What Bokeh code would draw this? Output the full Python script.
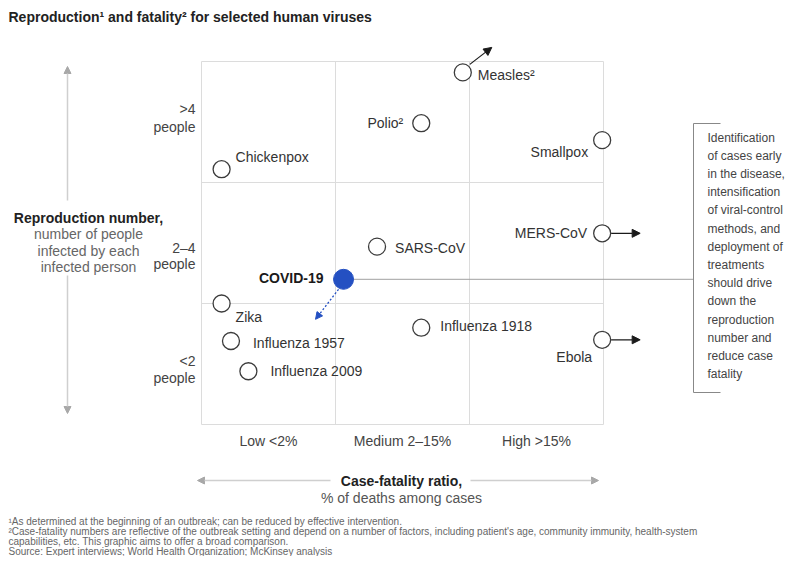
from bokeh.plotting import figure
from bokeh.models import Range1d, Arrow, NormalHead, ColumnDataSource
from bokeh.core.properties import value
from bokeh.embed import file_html
from bokeh.resources import INLINE

# ---------------- data ----------------
viruses = ["Measles²", "Polio²", "Chickenpox", "Smallpox", "MERS-CoV", "SARS-CoV",
           "Zika", "Influenza 1918", "Influenza 1957", "Influenza 2009", "Ebola"]
# case-fatality position (0-1 low, 1-2 medium, 2-3 high)
fatality = [1.95, 1.64, 0.15, 2.99, 2.99, 1.31, 0.15, 1.64, 0.22, 0.35, 2.99]
# reproduction position (0-1 <2, 1-2 2-4, 2-3 >4)
reproduction = [2.91, 2.49, 2.11, 2.35, 1.58, 1.47, 1.00, 0.80, 0.69, 0.44, 0.70]
covid_name = "COVID-19"
covid_fatality = [1.06]
covid_reproduction = [1.20]

fatality_categories = ["Low <2%", "Medium 2–15%", "High >15%"]
fatality_centers = [0.5, 1.5, 2.5]
reproduction_categories = [(">4", "people"), ("2–4", "people"), ("<2", "people")]
category_bounds = [0, 1, 2, 3]

title = "Reproduction¹ and fatality² for selected human viruses"
y_title = "Reproduction number,"
y_sub = ["number of people", "infected by each", "infected person"]
x_title = "Case-fatality ratio,"
x_sub = "% of deaths among cases"
side_note = ["Identification", "of cases early", "in the disease,", "intensification",
             "of viral-control", "methods, and", "deployment of", "treatments",
             "should drive", "down the", "reproduction", "number and",
             "reduce case", "fatality"]
footnotes = [
    "¹As determined at the beginning of an outbreak; can be reduced by effective intervention.",
    "²Case-fatality numbers are reflective of the outbreak setting and depend on a number of factors, including patient's age, community immunity, health-system",
    "capabilities, etc. This graphic aims to offer a broad comparison.",
    "Source: Expert interviews; World Health Organization; McKinsey analysis",
]

# ---------------- layout (styles / positions) ----------------
FONT = "Liberation Sans"
W, H = 786, 556
X0, Y0 = 201, 424       # canvas pixel of data origin
XS, YS = 134.0, 121.0   # pixels per category


def dx(px):
    return (px - X0) / XS


def dy(py):
    return (Y0 - py) / YS


# label offsets (px) and alignment per virus
lab_dx = [15, -18, 14, -14, -15, 18, 14, 19, 22, 22, -10]
lab_dy = [3, 0, -12, 12, 0, 1, 13, -2, 2, 0, 17]
lab_align = ["left", "right", "left", "right", "right", "left", "left", "left", "left", "left", "right"]

p = figure(width=W, height=H, output_backend="svg", toolbar_location=None,
           x_range=Range1d(dx(0), dx(W)), y_range=Range1d(dy(H), dy(0)),
           min_border=0, min_border_left=0, min_border_right=0,
           min_border_top=0, min_border_bottom=0)
p.axis.visible = False
p.grid.visible = False
p.outline_line_color = None
p.background_fill_color = "white"
p.border_fill_color = "white"

GRID = "#dcdcdc"
# grid box
p.segment(x0=category_bounds, y0=[0] * 4, x1=category_bounds, y1=[3] * 4,
          line_color=GRID, line_width=1)
p.segment(x0=[0] * 4, y0=category_bounds, x1=[3] * 4, y1=category_bounds,
          line_color=GRID, line_width=1)

# covid line and bracket
p.segment(x0=covid_fatality, y0=covid_reproduction, x1=[dx(693)], y1=covid_reproduction,
          line_color="#a0a0a0", line_width=1)
p.line(x=[dx(720), dx(693), dx(693), dx(720)], y=[dy(123), dy(123), dy(392), dy(392)],
       line_color="#888888", line_width=1)

# arrows for off-chart viruses (offsets in px)
DARK = "#1a1a1a"
arrow_idx = [0, 4, 10]
arrow_start = [(7, -8), (9, 0), (9, 0)]
arrow_end = [(29, -25), (38, 0), (38, 0)]
for i, (s, e) in zip(arrow_idx, zip(arrow_start, arrow_end)):
    p.add_layout(Arrow(end=NormalHead(size=8, fill_color=DARK, line_color=DARK),
                       x_start=fatality[i] + s[0] / XS, y_start=reproduction[i] - s[1] / YS,
                       x_end=fatality[i] + e[0] / XS, y_end=reproduction[i] - e[1] / YS,
                       line_color=DARK, line_width=1.2))

BLUE = "#2450c2"
p.add_layout(Arrow(end=NormalHead(size=7, fill_color=BLUE, line_color=BLUE),
                   x_start=covid_fatality[0] - 5 / XS, y_start=covid_reproduction[0] - 10 / YS,
                   x_end=covid_fatality[0] - 28 / XS, y_end=covid_reproduction[0] - 40 / YS,
                   line_color=BLUE, line_width=1.3, line_dash="2 2"))

# axis arrows
AX = "#cfcfcf"
AXH = "#a8a8a8"
for (xs, ys, xe, ye) in [(67, 200, 67, 66), (67, 275, 67, 413),
                         (330, 480, 197, 480), (470, 480, 598, 480)]:
    p.add_layout(Arrow(end=NormalHead(size=7, fill_color=AXH, line_color=AXH),
                       x_start=dx(xs), y_start=dy(ys), x_end=dx(xe), y_end=dy(ye),
                       line_color=AX, line_width=1.5))

# points
p.scatter(x=fatality, y=reproduction, marker="circle", size=17,
          fill_color="white", line_color="#3c3c3c", line_width=1.3)
p.scatter(x=covid_fatality, y=covid_reproduction, marker="circle", size=20,
          fill_color=BLUE, line_color=BLUE)

# virus labels
for al in ("left", "right"):
    idx = [i for i in range(len(viruses)) if lab_align[i] == al]
    src = ColumnDataSource(dict(x=[fatality[i] for i in idx], y=[reproduction[i] for i in idx],
                                t=[viruses[i] for i in idx], ox=[lab_dx[i] for i in idx],
                                oy=[lab_dy[i] for i in idx]))
    p.text(x="x", y="y", text="t", x_offset="ox", y_offset="oy", source=src,
           text_align=al, text_baseline="middle", text_font=value(FONT),
           text_font_size="14px", text_color="#333333")

p.text(x=covid_fatality, y=covid_reproduction, text=[covid_name], x_offset=-20, y_offset=-1,
       text_align="right", text_baseline="middle", text_font=value(FONT),
       text_font_size="14px", text_font_style="bold", text_color="#1a1a1a")

# category labels
p.text(x=fatality_centers, y=[dy(440)] * 3, text=fatality_categories, text_align="center",
       text_baseline="middle", text_font=value(FONT), text_font_size="14px", text_color="#444444")
row_y = [(108, 126), (247, 263), (360, 377)]
for (a, b), (ya, yb) in zip(reproduction_categories, row_y):
    p.text(x=[dx(195)] * 2, y=[dy(ya), dy(yb)], text=[a, b], text_align="right",
           text_baseline="middle", text_font=value(FONT), text_font_size="14px",
           text_color="#444444")

# axis titles
p.text(x=[dx(88)], y=[dy(217)], text=[y_title], text_align="center", text_baseline="middle",
       text_font=value(FONT), text_font_size="14px", text_font_style="bold", text_color="#222222")
p.text(x=[dx(88)] * 3, y=[dy(233), dy(250), dy(266)], text=y_sub, text_align="center",
       text_baseline="middle", text_font=value(FONT), text_font_size="14px", text_color="#666666")
p.text(x=[dx(401)], y=[dy(480)], text=[x_title], text_align="center", text_baseline="middle",
       text_font=value(FONT), text_font_size="14px", text_font_style="bold", text_color="#222222")
p.text(x=[dx(401)], y=[dy(497)], text=[x_sub], text_align="center", text_baseline="middle",
       text_font=value(FONT), text_font_size="14px", text_color="#555555")

# title
p.text(x=[dx(8)], y=[dy(16)], text=[title], text_align="left", text_baseline="middle",
       text_font=value(FONT), text_font_size="14px", text_font_style="bold", text_color="#222222")

# side note
p.text(x=[dx(707)] * len(side_note), y=[dy(137 + 18.2 * i) for i in range(len(side_note))],
       text=side_note, text_align="left", text_baseline="middle", text_font=value(FONT),
       text_font_size="12px", text_color="#444444")

# footnotes
p.text(x=[dx(8)] * 4, y=[dy(521), dy(531), dy(541), dy(550.5)], text=footnotes,
       text_align="left", text_baseline="middle", text_font=value(FONT),
       text_font_size="10px", text_color="#666666")

open("out.html", "w").write(file_html(p, INLINE))
